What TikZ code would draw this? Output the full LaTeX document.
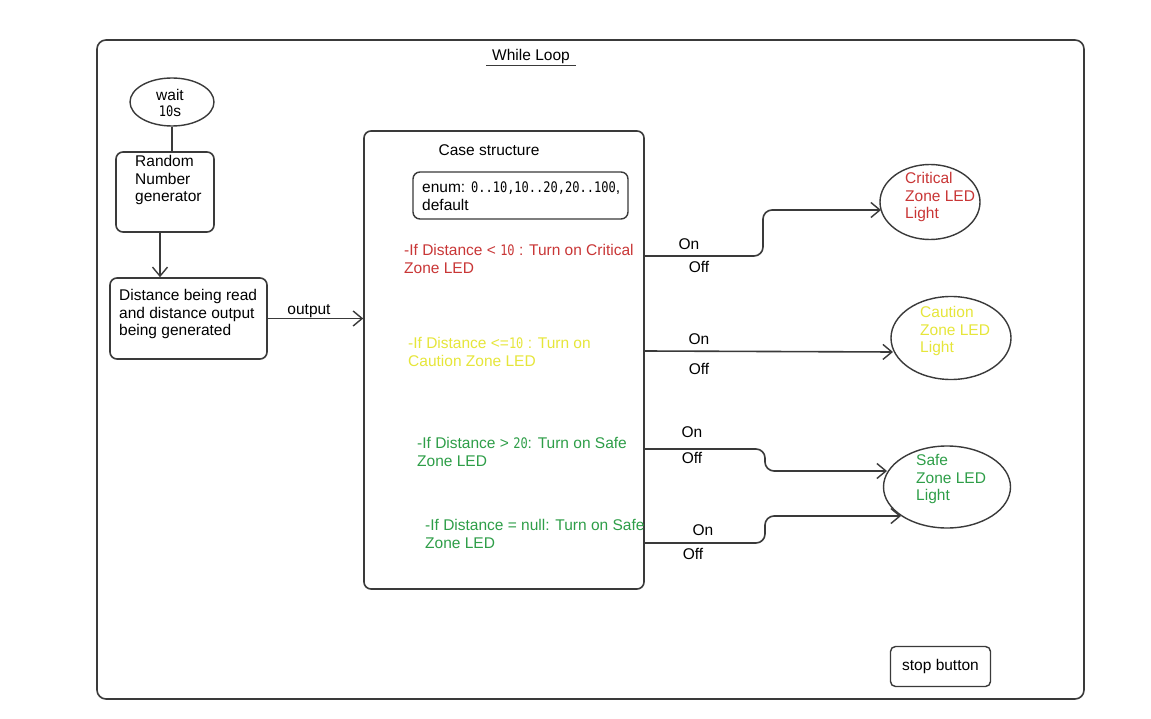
\documentclass[tikz,border=0pt]{standalone}
\usepackage{fontspec}
\setmainfont{Liberation Sans}
\newfontfamily\monof[FakeStretch=0.83]{DejaVu Sans Mono}
\usetikzlibrary{shapes.geometric,arrows.meta}
\definecolor{linec}{HTML}{3A3A3A}
\definecolor{critc}{HTML}{C93636}
\definecolor{cautc}{HTML}{E6E63A}
\definecolor{safec}{HTML}{2E9E48}
\newcommand{\dg}[1]{{\monof\fontsize{14.5}{17.6}\selectfont #1}}
\tikzset{
  box/.style={draw=linec, line width=1.6pt, rounded corners=7pt, inner sep=0pt},
  oval/.style={draw=linec, line width=1.4pt, ellipse, inner sep=0pt},
  txt/.style={inner sep=0pt, align=left, anchor=north west, font=\fontsize{15.5}{17.6}\selectfont},
  lbl/.style={inner sep=0pt, font=\fontsize{15.5}{17.6}\selectfont},
  conn/.style={draw=linec, line width=1.6pt},
  arr/.style={conn, -{Straight Barb[length=9pt,width=15pt,line width=1.4pt]}},
  sbend/.style={arr, rounded corners=9pt}
}
\begin{document}
\begin{tikzpicture}[x=1pt,y=-1pt]
\useasboundingbox (0,0) rectangle (1151,719);
\fill[white] (0,0) rectangle (1151,719);

% outer while loop
\node[box, rounded corners=9pt, minimum width=987pt, minimum height=659pt] (loop) at (590.5,369.5) {};
\node[lbl] (title) at (531,56) {While Loop};
\draw[conn, line width=1.3pt] ([xshift=-6pt,yshift=-2pt]title.south west) -- ([xshift=6pt,yshift=-2pt]title.south east);

% left chain
\node[oval, minimum width=84pt, minimum height=48pt] (wait) at (172,102) {};
\node[lbl, align=center, font=\fontsize{15.5}{16.5}\selectfont] (waittxt) at (170,103) {wait\\\dg{10}s};
\node[box, minimum width=98pt, minimum height=80pt] (rng) at (165,192) {};
\node[txt] (rngtxt) at (135,155) {Random\\Number\\generator};
\node[box, minimum width=157pt, minimum height=81pt] (dist) at (188.5,318.5) {};
\node[txt] (disttxt) at (119,289) {Distance being read\\and distance output\\being generated};

\draw[conn] (wait.south) -- (wait.south |- rng.north);
\draw[arr] ([xshift=-5pt]rng.south) -- ([xshift=-5pt]rng.south |- dist.north);

% case structure
\node[box, minimum width=280pt, minimum height=458pt] (case) at (504,360) {};
\node[lbl] (casetxt) at (489,150) {Case structure};
\node[box, line width=1.4pt, minimum width=215pt, minimum height=47pt] (enum) at (520.5,195.5) {};
\node[txt] (enumtxt) at (422,182) {enum: \dg{0..10,10..20,20..100},\\default};

\draw[arr] (dist.east) -- (dist.east -| case.west);
\node[lbl] (outlbl) at (309,311) {output};

\node[txt, text=critc] (c1) at (404,244) {-If Distance < \dg{10} : Turn on Critical\\Zone LED};
\node[txt, text=cautc] (c2) at (408,337) {-If Distance <=\dg{10} : Turn on\\Caution Zone LED};
\node[txt, text=safec] (c3) at (417,437) {-If Distance > \dg{20}: Turn on Safe\\Zone LED};
\node[txt, text=safec] (c4) at (425,519) {-If Distance = null: Turn on Safe\\Zone LED};

% LEDs
\node[oval, minimum width=100pt, minimum height=75pt] (crit) at (930,202) {};
\node[txt, text=critc] (crittxt) at (905,172) {Critical\\Zone LED\\Light};
\node[oval, minimum width=120pt, minimum height=83pt] (caut) at (951,338) {};
\node[txt, text=cautc] (cauttxt) at (920,306) {Caution\\Zone LED\\Light};
\node[oval, minimum width=127pt, minimum height=82pt] (safe) at (947,487) {};
\node[txt, text=safec] (safetxt) at (916,454) {Safe\\Zone LED\\Light};

\node[box, line width=1.4pt, rounded corners=5pt, minimum width=100pt, minimum height=40pt] (stop) at (940.5,666.5) {};
\node[lbl] (stoptxt) at (940.5,666.5) {stop button};

% connector end points on the LEDs
\coordinate (t1) at (881,210);
\coordinate (t2) at (893,352);
\coordinate (t3) at (887,471);
\coordinate (t4) at (901,516);

\draw[sbend] (case.east |- 0,256) -- (763,256) -- (763,210) -- (t1);
\draw[arr] (case.east |- 0,351) -- (t2);
\draw[sbend] (case.east |- 0,449) -- (765,449) -- (765,471) -- (t3);
\draw[sbend] (case.east |- 0,543) -- (765,543) -- (765,516) -- (t4);

\node[lbl] (on1) at (689,244) {On};
\node[lbl] (off1) at (699,267) {Off};
\node[lbl] (on2) at (699,339) {On};
\node[lbl] (off2) at (699,369) {Off};
\node[lbl] (on3) at (692,432) {On};
\node[lbl] (off3) at (692,458) {Off};
\node[lbl] (on4) at (703,530) {On};
\node[lbl] (off4) at (693,554) {Off};
\end{tikzpicture}
\end{document}
